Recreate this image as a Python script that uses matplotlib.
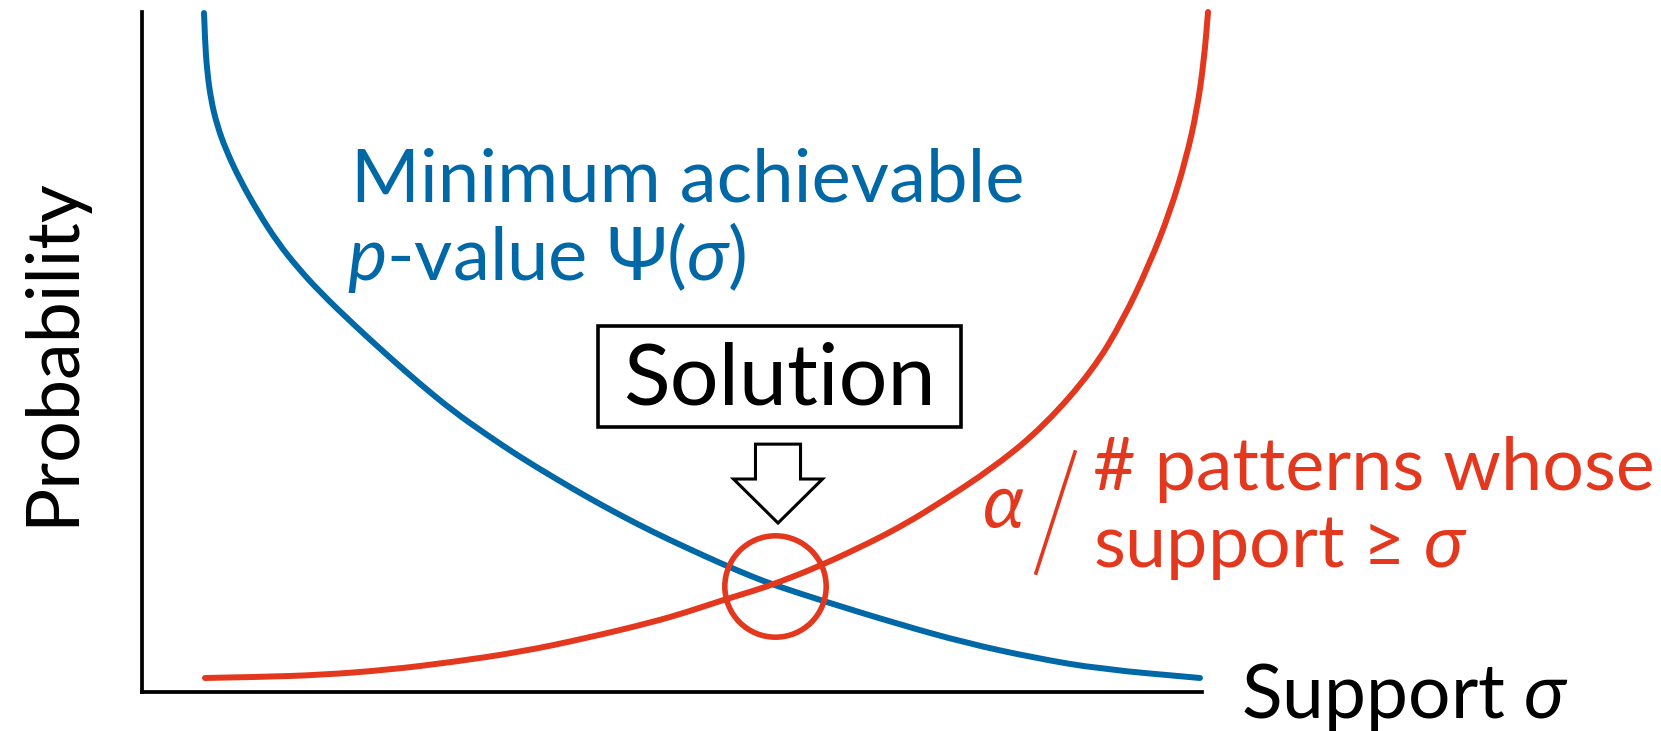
import matplotlib
matplotlib.use("Agg")
import matplotlib.pyplot as plt
from matplotlib.lines import Line2D
from matplotlib.patches import FancyArrow, PathPatch, Rectangle
from matplotlib.path import Path

plt.rcParams["font.family"] = ["Lato", "DejaVu Sans"]
plt.rcParams["mathtext.fontset"] = "custom"
plt.rcParams["mathtext.rm"] = "Lato"
plt.rcParams["mathtext.it"] = "Lato:italic"
plt.rcParams["mathtext.fallback"] = "stixsans"

# minimum achievable p-value Psi(sigma)
psi_support = [0.0585, 0.0594, 0.0613, 0.0651, 0.0708, 0.0792, 0.0925, 0.1094, 0.1283, 0.1472,
               0.1679, 0.1991, 0.2311, 0.2623, 0.2934, 0.3255, 0.3566, 0.3877, 0.4198, 0.4509,
               0.4821, 0.5142, 0.5453, 0.5764, 0.5991, 0.6396, 0.7132, 0.7774, 0.8425, 0.9038,
               0.9981]
psi_prob = [0.9985, 0.9588, 0.9147, 0.8706, 0.8338, 0.7971, 0.7529, 0.7059, 0.6603, 0.6235,
            0.5882, 0.5412, 0.4956, 0.4529, 0.4132, 0.3779, 0.3456, 0.3162, 0.2868, 0.2603,
            0.2353, 0.2118, 0.1897, 0.1691, 0.1559, 0.1353, 0.1000, 0.0721, 0.0500, 0.0338,
            0.0206]

# alpha / number of patterns whose support >= sigma
thr_support = [0.0594, 0.1113, 0.1679, 0.2311, 0.2934, 0.3566, 0.4198, 0.4821, 0.5142, 0.5453,
               0.5764, 0.5991, 0.6396, 0.6858, 0.7132, 0.7453, 0.8057, 0.8519, 0.8972, 0.9255,
               0.9500, 0.9698, 0.9849, 0.9953, 1.0019, 1.0057]
thr_prob = [0.0206, 0.0221, 0.0250, 0.0324, 0.0441, 0.0588, 0.0794, 0.1029, 0.1176, 0.1338,
            0.1485, 0.1603, 0.1853, 0.2191, 0.2412, 0.2706, 0.3324, 0.3926, 0.4735, 0.5471,
            0.6279, 0.7059, 0.7838, 0.8559, 0.9294, 1.0000]

solution = (0.597, 0.156)

BLUE = "#0068A6"
RED = "#E3371E"
W, H = 1661, 731


def fxy(px, py):
    # pixel position (from top-left) -> figure fraction
    return px / W, 1 - py / H


def smooth_curve(ax, xs, ys, color):
    # quadratic bezier through the midpoints, so the polyline has no kinks
    verts = [(xs[0], ys[0])]
    codes = [Path.MOVETO]
    for i in range(1, len(xs) - 1):
        verts += [(xs[i], ys[i]), ((xs[i] + xs[i + 1]) / 2, (ys[i] + ys[i + 1]) / 2)]
        codes += [Path.CURVE3, Path.CURVE3]
    verts.append((xs[-1], ys[-1]))
    codes.append(Path.LINETO)
    ax.add_patch(PathPatch(Path(verts, codes), fill=False, ec=color, lw=4.3,
                           capstyle="round", clip_on=False))


fig = plt.figure(figsize=(W / 100, H / 100), dpi=100)
ax = fig.add_axes([142 / W, (H - 692) / H, 1060 / W, 680 / H])
ax.set_xlim(0, 1)
ax.set_ylim(0, 1)
for s in ["top", "right"]:
    ax.spines[s].set_visible(False)
for s in ["left", "bottom"]:
    ax.spines[s].set_linewidth(2.7)
ax.set_xticks([])
ax.set_yticks([])

smooth_curve(ax, psi_support, psi_prob, BLUE)
smooth_curve(ax, thr_support, thr_prob, RED)

# circle round the crossing point
ax.plot(*solution, "o", ms=73, mfc="none", mec=RED, mew=4.0, clip_on=False)

# hollow arrow pointing at the solution
tip_y = solution[1] + 0.0925
ax.add_patch(FancyArrow(solution[0] + 0.003, tip_y + 0.116, 0, -0.116, width=0.0425,
                        head_width=0.084, head_length=0.0647, length_includes_head=True,
                        fc="white", ec="black", lw=2.2, joinstyle="miter"))

# "Solution" box
x0, y0 = fxy(598, 427)
x1, y1 = fxy(961, 326)
fig.add_artist(Rectangle((x0, y0), x1 - x0, y1 - y0, transform=fig.transFigure,
                         fill=False, ec="black", lw=2.6))
fig.text(*fxy(779, 404), "Solution", fontsize=62, ha="center", va="baseline")

# labels
fig.text(*fxy(351, 202), "Minimum achievable", fontsize=53.5, color=BLUE, va="baseline")
fig.text(*fxy(347, 280), r"$p$-value Ψ($\sigma$)", fontsize=53.5, color=BLUE, va="baseline")

fig.text(*fxy(1093, 490), "# patterns whose", fontsize=53, color=RED, va="baseline")
fig.text(*fxy(1093, 567), r"support ≥ $\sigma$", fontsize=53, color=RED, va="baseline")
fig.text(*fxy(982, 528), r"$\alpha$", fontsize=54, color=RED, va="baseline")
sx0, sy0 = fxy(1075, 452)
sx1, sy1 = fxy(1036, 573)
fig.add_artist(Line2D([sx0, sx1], [sy0, sy1], transform=fig.transFigure, color=RED, lw=2.6))

fig.text(*fxy(1241, 718), r"Support $\sigma$", fontsize=54, va="baseline")
fig.text(*fxy(86, 352), "Probability", fontsize=53, rotation=90, ha="right", va="center")

fig.savefig("out.png", dpi=100)
